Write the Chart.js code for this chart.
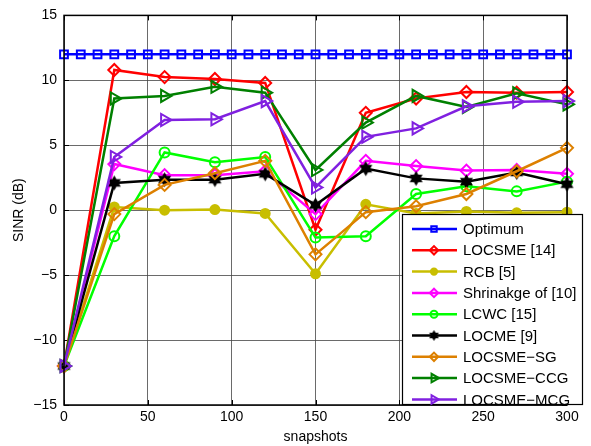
<!DOCTYPE html>
<html>
<head>
<meta charset="utf-8">
<title>SINR vs snapshots</title>
<script src="https://cdn.jsdelivr.net/npm/chart.js@4.4.0/dist/chart.umd.min.js"></script>
<style>
  html, body { margin: 0; padding: 0; background: #fff; }
  #wrap { width: 591px; height: 446px; }
</style>
</head>
<body>
<div id="wrap"><canvas id="sinrChart" width="591" height="446"></canvas></div>
<script>
// x positions of the snapshots
const snapshots = [0, 30, 60, 90, 120, 150, 180, 210, 240, 270, 300];
const optimumSnapshots = [0, 10, 20, 30, 40, 50, 60, 70, 80, 90, 100, 110, 120, 130, 140, 150,
                          160, 170, 180, 190, 200, 210, 220, 230, 240, 250, 260, 270, 280, 290, 300];

// SINR (dB)
const optimum     = [12, 12, 12, 12, 12, 12, 12, 12, 12, 12, 12, 12, 12, 12, 12, 12,
                     12, 12, 12, 12, 12, 12, 12, 12, 12, 12, 12, 12, 12, 12, 12];
const locsme14    = [-12, 10.8, 10.25, 10.1, 9.8, -1.5, 7.5, 8.6, 9.1, 9.05, 9.1];
const rcb5        = [-12, 0.25, 0.0, 0.05, -0.25, -4.9, 0.45, -0.25, -0.1, -0.2, -0.15];
const shrinkage10 = [-12, 3.55, 2.7, 2.7, 3.0, -0.3, 3.8, 3.4, 3.05, 3.1, 2.8];
const lcwc15      = [-12, -2.0, 4.45, 3.7, 4.1, -2.1, -2.0, 1.25, 1.85, 1.45, 2.2];
const locme9      = [-12, 2.1, 2.35, 2.35, 2.8, 0.4, 3.2, 2.45, 2.2, 2.9, 2.0];
const locsmeSG    = [-12, -0.3, 1.95, 2.85, 3.8, -3.4, -0.15, 0.3, 1.25, 3.0, 4.8];
const locsmeCCG   = [-12, 8.6, 8.8, 9.5, 9.05, 3.1, 6.75, 8.8, 7.95, 9.0, 8.15];
const locsmeMCG   = [-12, 4.1, 6.95, 7.0, 8.4, 1.75, 5.65, 6.3, 8.0, 8.35, 8.4];

const seriesLabels = ["Optimum", "LOCSME [14]", "RCB [5]", "Shrinakge of [10]", "LCWC [15]",
                      "LOCME [9]", "LOCSME\u2212SG", "LOCSME\u2212CCG", "LOCSME\u2212MCG"];
const xTicks = [0, 50, 100, 150, 200, 250, 300];
const yTicks = [-15, -10, -5, 0, 5, 10, 15];

const FONT = "'Liberation Sans', Arial, Helvetica, sans-serif";

// matlab style filled hexagram
function makeHexagram(color, r) {
    const c = document.createElement("canvas");
    const s = Math.ceil(r * 2 + 2);
    c.width = s; c.height = s;
    const g = c.getContext("2d");
    g.fillStyle = color;
    g.beginPath();
    for (let i = 0; i < 12; i++) {
        const rad = (i % 2 === 0) ? r : r / Math.sqrt(3);
        const a = -Math.PI / 2 + i * Math.PI / 6;
        const px = s / 2 + rad * Math.cos(a), py = s / 2 + rad * Math.sin(a);
        if (i === 0) g.moveTo(px, py); else g.lineTo(px, py);
    }
    g.closePath();
    g.fill();
    return c;
}
const hexBig = makeHexagram("#000000", 7.5);
const hexSmall = makeHexagram("#000000", 5.5);

function pts(xs, ys) {
    return xs.map((x, i) => ({ x: x, y: ys[i] }));
}

function makeSet(label, xs, ys, color, style, extra) {
    return Object.assign({
        label: label,
        data: pts(xs, ys),
        borderColor: color,
        backgroundColor: "rgba(0,0,0,0)",
        borderWidth: 2.5,
        pointStyle: style,
        pointRadius: 6,
        pointHoverRadius: 6,
        pointBorderColor: color,
        pointBackgroundColor: "rgba(0,0,0,0)",
        pointBorderWidth: 2,
        pointRotation: 0,
        tension: 0,
        clip: false
    }, extra || {});
}

const datasets = [
    makeSet(seriesLabels[0], optimumSnapshots, optimum, "#0000ff", "rect", { pointRadius: 5.5 }),
    makeSet(seriesLabels[1], snapshots, locsme14, "#ff0000", "rectRot", { pointRadius: 6 }),
    makeSet(seriesLabels[2], snapshots, rcb5, "#c8be00", "circle", { pointRadius: 4.5, pointBackgroundColor: "#c8be00" }),
    makeSet(seriesLabels[3], snapshots, shrinkage10, "#ff00ff", "rectRot", { pointRadius: 6 }),
    makeSet(seriesLabels[4], snapshots, lcwc15, "#00ff00", "circle", { pointRadius: 5 }),
    makeSet(seriesLabels[5], snapshots, locme9, "#000000", hexBig, {}),
    makeSet(seriesLabels[6], snapshots, locsmeSG, "#dd8000", "rectRot", { pointRadius: 6 }),
    makeSet(seriesLabels[7], snapshots, locsmeCCG, "#008000", "triangle", { pointRadius: 7, pointRotation: 90 }),
    makeSet(seriesLabels[8], snapshots, locsmeMCG, "#8020e0", "triangle", { pointRadius: 7, pointRotation: 90 })
];
// later series drawn on top, like matlab
datasets.forEach((d, i) => { d.order = datasets.length - i; });

const minusSign = v => String(v).replace("-", "\u2212");

const matlabAxes = {
    id: "matlabAxes",
    beforeDatasetsDraw(chart) {
        const { ctx, chartArea: a, scales } = chart;
        ctx.save();
        ctx.strokeStyle = "#000";
        ctx.lineWidth = 1;
        ctx.beginPath();
        xTicks.forEach(t => {
            const px = Math.round(scales.x.getPixelForValue(t)) + 0.5;
            ctx.moveTo(px, a.bottom); ctx.lineTo(px, a.bottom - 5);
            ctx.moveTo(px, a.top); ctx.lineTo(px, a.top + 5);
        });
        yTicks.forEach(t => {
            const py = Math.round(scales.y.getPixelForValue(t)) + 0.5;
            ctx.moveTo(a.left, py); ctx.lineTo(a.left + 5, py);
            ctx.moveTo(a.right, py); ctx.lineTo(a.right - 5, py);
        });
        ctx.stroke();
        ctx.restore();
    },
    afterDatasetsDraw(chart) {
        const { ctx, chartArea: a } = chart;
        ctx.save();
        ctx.strokeStyle = "#000";
        ctx.lineWidth = 1.5;
        ctx.strokeRect(a.left, a.top, a.right - a.left, a.bottom - a.top);
        ctx.restore();
    }
};

const matlabLegend = {
    id: "matlabLegend",
    afterDraw(chart) {
        const { ctx, chartArea: a } = chart;
        const w = 181, h = 191;
        const left = a.right + 16 - w, top = a.bottom - h;
        ctx.save();
        ctx.fillStyle = "#fff";
        ctx.fillRect(left, top, w, h);
        ctx.strokeStyle = "#000";
        ctx.lineWidth = 1.2;
        ctx.strokeRect(left + 0.5, top + 0.5, w - 1, h - 1);
        ctx.font = "15px " + FONT;
        ctx.textBaseline = "middle";
        chart.data.datasets.forEach((ds, i) => {
            const y = top + 15 + i * 21.3;
            ctx.strokeStyle = ds.borderColor;
            ctx.lineWidth = ds.borderWidth;
            ctx.beginPath();
            ctx.moveTo(left + 10, y);
            ctx.lineTo(left + 55, y);
            ctx.stroke();
            ctx.fillStyle = ds.pointBackgroundColor;
            ctx.lineWidth = ds.pointBorderWidth;
            const style = (ds.pointStyle === hexBig) ? hexSmall : ds.pointStyle;
            Chart.helpers.drawPoint(ctx, {
                pointStyle: style,
                rotation: ds.pointRotation,
                radius: ds.pointRadius * 0.7,
                borderWidth: ds.pointBorderWidth
            }, left + 32, y);
            ctx.fillStyle = "#000";
            ctx.fillText(ds.label, left + 61, y + 1);
        });
        ctx.restore();
    }
};

new Chart(document.getElementById("sinrChart"), {
    type: "line",
    data: { datasets: datasets },
    options: {
        responsive: false,
        animation: false,
        events: [],
        layout: { padding: { top: 13, right: 24, left: 0, bottom: 0 } },
        plugins: {
            legend: { display: false },
            tooltip: { enabled: false }
        },
        scales: {
            x: {
                type: "linear",
                min: 0, max: 300,
                afterBuildTicks: s => { s.ticks = xTicks.map(v => ({ value: v })); },
                afterFit: s => { s.height = 41; },
                ticks: {
                    color: "#000", padding: 4, maxRotation: 0,
                    font: { family: FONT, size: 14 },
                    callback: minusSign
                },
                grid: {
                    color: "#444", lineWidth: 0.8, borderDash: [1, 3],
                    drawTicks: false
                },
                border: { display: false },
                title: {
                    display: true, text: "snapshots", color: "#000",
                    font: { family: FONT, size: 14 }, padding: { top: 0, bottom: 0 }
                }
            },
            y: {
                type: "linear",
                min: -15, max: 15,
                afterBuildTicks: s => { s.ticks = yTicks.map(v => ({ value: v })); },
                afterFit: s => { s.width = 64; },
                ticks: {
                    color: "#000", padding: 7,
                    font: { family: FONT, size: 14 },
                    callback: minusSign
                },
                grid: {
                    color: "#444", lineWidth: 0.8, borderDash: [1, 3],
                    drawTicks: false
                },
                border: { display: false },
                title: {
                    display: true, text: "SINR (dB)", color: "#000",
                    font: { family: FONT, size: 14 }, padding: { top: 11, bottom: 0 }
                }
            }
        }
    },
    plugins: [matlabAxes, matlabLegend]
});
</script>
</body>
</html>
